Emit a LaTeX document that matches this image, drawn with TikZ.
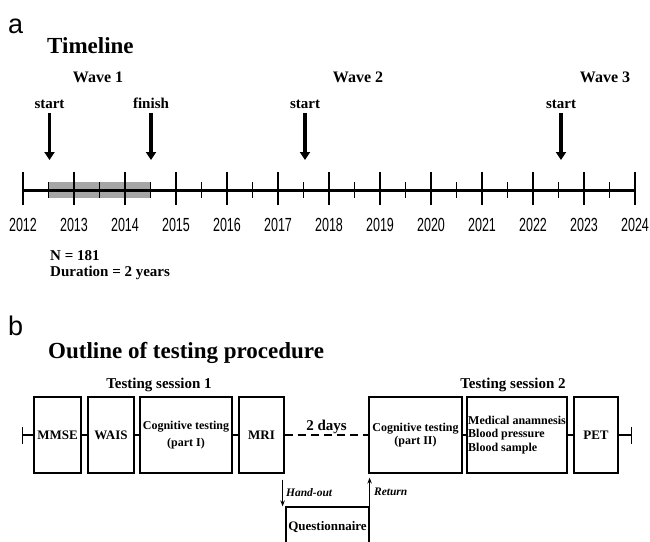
\documentclass[tikz,border=0pt]{standalone}
\usepackage{fontspec}
\setmainfont{Liberation Serif}
\newfontfamily\panelfont{Liberation Sans}
\newfontfamily\yearfont[FakeStretch=0.66]{Liberation Sans}
\usetikzlibrary{arrows.meta, positioning}

\begin{document}
\begin{tikzpicture}[x=1pt, y=-1pt,
    panel/.style={font=\panelfont\fontsize{27}{30}\selectfont, anchor=base west, inner sep=0pt},
    heading/.style={font=\bfseries\fontsize{23}{26}\selectfont, anchor=base west, inner sep=0pt},
    wave/.style={font=\bfseries\fontsize{16}{18}\selectfont, anchor=base, inner sep=0pt},
    eventlbl/.style={font=\bfseries\fontsize{15}{17}\selectfont, anchor=base, inner sep=0pt},
    yearlbl/.style={font=\yearfont\fontsize{19}{21}\selectfont, anchor=base, inner sep=0pt},
    bigarrow/.style={line width=3.5pt, -{Triangle[length=8pt,width=10pt]}},
    stage/.style={draw, line width=1.2pt, minimum height=76pt, inner sep=1pt, align=center,
      font=\bfseries\fontsize{12}{13.5}\selectfont},
    link/.style={line width=1.2pt},
    smallarrow/.style={line width=1pt, -{Stealth[length=6pt,width=4.5pt]}},
    note/.style={font=\bfseries\itshape\fontsize{11.5}{13}\selectfont, inner sep=0pt}]
  \clip (0,0) rectangle (650,541);

  % a: timeline
  \node[panel] (pa) at (8,33) {a};
  \node[heading] (tl) at (47,53) {Timeline};
  \node[wave] (w1) at (98,82) {Wave 1};
  \node[wave] (w2) at (358,82) {Wave 2};
  \node[wave] (w3) at (605,82) {Wave 3};

  \fill[black!35] (48.5,182) rectangle (150.5,198);
  \draw[line width=3pt] (23,190) -- (635,190);
  \foreach \i in {0,...,12} {
    \pgfmathtruncatemacro\yr{2012+\i}
    \draw[line width=1.2pt] (23+51*\i,172) -- (23+51*\i,205);
    \node[yearlbl] (y\yr) at (23+51*\i,231) {\yr};
  }
  \foreach \i in {0,...,11}
    \draw[line width=1.2pt] (48.5+51*\i,182) -- (48.5+51*\i,198);

  \foreach \nm/\lbl/\xx in {s1/start/49.5, f1/finish/151, s2/start/305, s3/start/561} {
    \node[eventlbl] (\nm) at (\xx,108) {\lbl};
    \coordinate (\nm tip) at (\xx,160);
    \draw[bigarrow] ([yshift=-5pt]\nm.south) -- (\nm tip);
  }

  \node[eventlbl, anchor=base west] (n) at (50,260) {N = 181};
  \node[eventlbl, anchor=base west] (dur) at (50,276) {Duration = 2 years};

  % b: testing procedure
  \node[panel] (pb) at (8,335) {b};
  \node[heading] (ol) at (48,358) {Outline of testing procedure};
  \node[eventlbl] (ts1) at (159,388) {Testing session 1};
  \node[eventlbl] (ts2) at (513,388) {Testing session 2};

  \node[stage, minimum width=47pt, font=\bfseries\fontsize{13}{15}\selectfont] (mmse) at (57.5,435) {MMSE};
  \node[stage, minimum width=46pt, font=\bfseries\fontsize{13}{15}\selectfont] (wais) at (111,435) {WAIS};
  \node[stage, minimum width=92pt] (cog1) at (186,435) {Cognitive testing\\[3pt](part I)};
  \node[stage, minimum width=45pt, font=\bfseries\fontsize{13}{15}\selectfont] (mri) at (261.5,435) {MRI};
  \node[stage, minimum width=93pt] (cog2) at (415.5,435) {Cognitive testing\\(part II)};
  \node[stage, minimum width=100pt, align=left] (med) at (517,435) {Medical anamnesis\\Blood pressure\\Blood sample};
  \node[stage, minimum width=44pt, font=\bfseries\fontsize{13}{15}\selectfont] (pet) at (596,435) {PET};
  \node[stage, minimum width=83pt, minimum height=40pt, font=\bfseries\fontsize{13}{15}\selectfont] (quest) at (327.5,527) {Questionnaire};

  \coordinate (startcap) at (22,435);
  \coordinate (endcap) at (632,435);
  \draw[link, {Bar[width=17pt]}-] (startcap) -- (mmse);
  \draw[link] (mmse) -- (wais);
  \draw[link] (wais) -- (cog1);
  \draw[link] (cog1) -- (mri);
  \draw[link, dash pattern=on 8pt off 5pt] (mri) -- node[eventlbl, above=1pt] (gap) {2 days} (cog2);
  \draw[link] (cog2) -- (med);
  \draw[link] (med) -- (pet);
  \draw[link, -{Bar[width=17pt]}] (pet) -- (endcap);

  \coordinate (hotop) at ([xshift=-2pt, yshift=-6pt]mri.south east);
  \draw[smallarrow] (hotop) -- (hotop |- quest.north) node[note, midway, right=3pt] (ho) {Hand-out};
  \coordinate (rettop) at ([yshift=-4pt]cog2.south west);
  \draw[smallarrow] (quest.north east) -- (quest.north east |- rettop) node[note, midway, right=4pt] (ret) {Return};
\end{tikzpicture}
\end{document}
